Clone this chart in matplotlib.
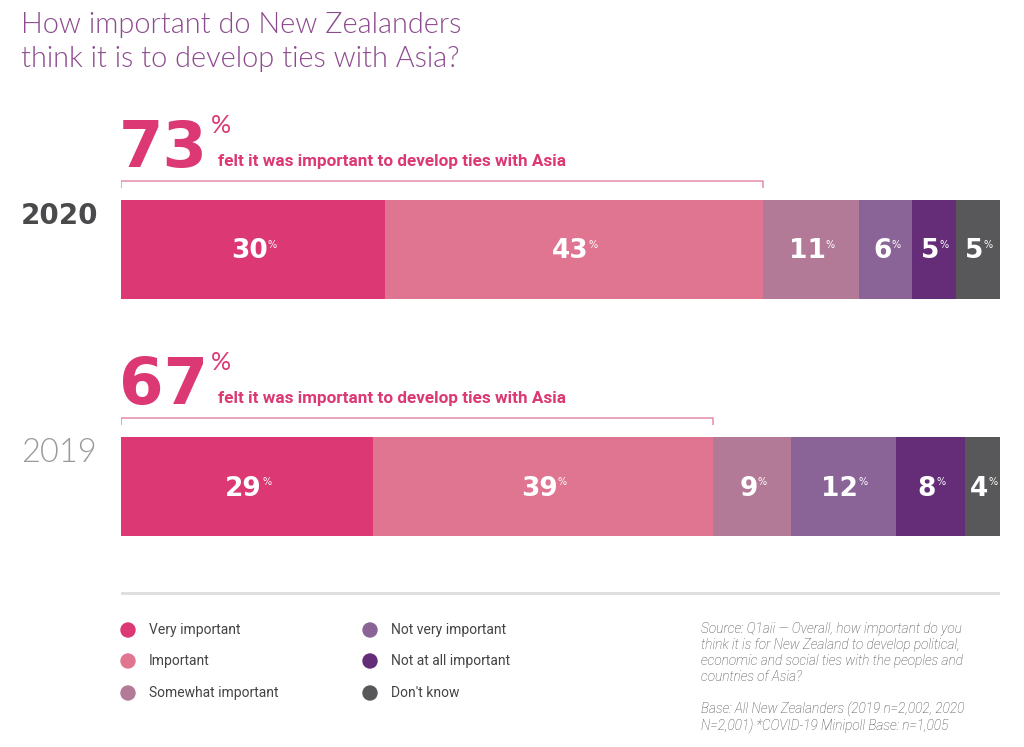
import matplotlib
matplotlib.use("Agg")
import matplotlib.pyplot as plt
import numpy as np

W, H = 1024, 747

# data
years = ["2020", "2019"]
categories = ["Very important", "Important", "Somewhat important",
              "Not very important", "Not at all important", "Don't know"]
values_2020 = [30, 43, 11, 6, 5, 5]
values_2019 = [29, 39, 9, 12, 8, 4]
important_total = [73, 67]
colors = ["#DB3874", "#E07591", "#B27A96", "#8A6497", "#652D78", "#58585A"]

title_lines = ["How important do New Zealanders",
               "think it is to develop ties with Asia?"]
headline = "felt it was important to develop ties with Asia"
source = ("Source: Q1aii \u2014 Overall, how important do you\n"
          "think it is for New Zealand to develop political,\n"
          "economic and social ties with the peoples and\n"
          "countries of Asia?")
base = ("Base: All New Zealanders (2019 n=2,002, 2020\n"
        "N=2,001) *COVID-19 Minipoll Base: n=1,005")

PINK = "#DB3874"
TITLE_C = "#8C4A8E"


def fx(x):
    return x / W


def fy(y):
    return 1 - y / H


fig = plt.figure(figsize=(W / 100, H / 100), dpi=100)
fig.patch.set_facecolor("white")

# bar axes: x in percent, y in pixels
ax = fig.add_axes([fx(121), 0, (1000 - 121) / W, 1])
ax.set_xlim(0, 100)
ax.set_ylim(H, 0)
ax.axis("off")

rows = [values_2020, values_2019]
bar_centers = [249.5, 486.5]
bracket_y = [181, 418]
year_style = [dict(color="#4A4A4C", fontweight="bold", family="DejaVu Sans",
                   fontsize=20),
              dict(color="#9A9A9A", fontweight=300, family="Lato",
                   fontsize=23.5)]

for i, vals in enumerate(rows):
    vals = np.array(vals, dtype=float)
    scaled = vals / vals.sum() * 100
    lefts = np.concatenate([[0], np.cumsum(scaled)[:-1]])
    ax.barh(bar_centers[i], scaled, left=lefts, height=99, color=colors,
            edgecolor="none")
    for v, l, s in zip(rows[i], lefts, scaled):
        t = ax.text(l + s / 2 - 0.4, bar_centers[i] + 2, str(v), color="white",
                    fontsize=19, fontweight="bold", family="DejaVu Sans",
                    ha="center", va="center")
        ax.annotate("%", xy=(1, 0.95), xycoords=t, xytext=(0, 0),
                    textcoords="offset points", ha="left", va="top",
                    color="white", fontsize=7)

    # bracket over the "important" share
    end = scaled[0] + scaled[1]
    yb = bracket_y[i]
    ax.plot([0, 0, end, end], [yb + 7, yb, yb, yb + 7], color="#E58AA8",
            lw=1.1, solid_capstyle="butt")

    # headline number, with the % sign tucked against its right edge
    base_y = bracket_y[i] - 14
    big = fig.text(fx(119), fy(base_y), str(important_total[i]), color=PINK,
                   fontsize=46, fontweight="bold", family="DejaVu Sans",
                   ha="left", va="baseline")
    fig.text(fx(211), fy(base_y - 34), "%", color=PINK, fontsize=18,
             family="Lato", ha="left", va="baseline")
    fig.text(fx(218), fy(base_y - 1), headline, color=PINK, fontsize=12.3,
             fontweight="bold", family="Roboto",
             ha="left", va="baseline")

    # year label
    fig.text(fx(21), fy(bar_centers[i] - 25), years[i],
             ha="left", va="baseline", **year_style[i])

# title
for k, line in enumerate(title_lines):
    fig.text(fx(21), fy(33 + 34 * k), line, color=TITLE_C, fontsize=20.8,
             family="Lato", fontweight=300, ha="left", va="baseline")

# separator
ax.plot([0, 100], [593, 593], color="#DDDDDD", lw=2)

# legend
leg_x = [128, 370]
leg_y = [630, 661, 693]
for k, (name, c) in enumerate(zip(categories, colors)):
    col, r = divmod(k, 3)
    fig.patches.append(matplotlib.patches.Ellipse(
        (fx(leg_x[col]), fy(leg_y[r])), 14 / W, 14 / H,
        transform=fig.transFigure, color=c))
    fig.text(fx(leg_x[col] + 21), fy(leg_y[r]), name, color="#444444",
             fontsize=10, family="Roboto",
             ha="left", va="center")

fig.text(fx(701), fy(622), source, color="#444444", fontsize=9.8,
         family="Roboto", fontstyle="italic", fontweight="light",
         ha="left", va="top", linespacing=1.18)
fig.text(fx(701), fy(702), base, color="#444444", fontsize=9.8,
         family="Roboto", fontstyle="italic", fontweight="light",
         ha="left", va="top", linespacing=1.18)

fig.savefig("out.png", dpi=100, facecolor="white")
